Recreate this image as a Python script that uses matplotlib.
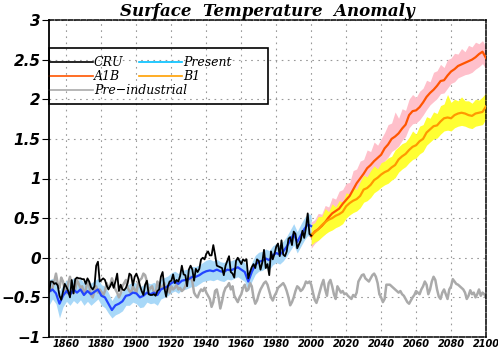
import numpy as np
import matplotlib
matplotlib.use("Agg")
import matplotlib.pyplot as plt
import matplotlib.transforms as mtransforms
from matplotlib.lines import Line2D
from matplotlib.patches import Rectangle

# ------------------------------------------------------------------
# data
# ------------------------------------------------------------------
cru_years = np.arange(1850, 2001)
cru = [
    -0.44, -0.30, -0.30, -0.33, -0.32, -0.35, -0.48, -0.53, -0.43, -0.33,
    -0.37, -0.42, -0.50, -0.28, -0.45, -0.27, -0.25, -0.26, -0.26, -0.27,
    -0.27, -0.33, -0.26, -0.30, -0.37, -0.40, -0.36, -0.10, -0.05, -0.30,
    -0.28, -0.26, -0.28, -0.35, -0.40, -0.36, -0.31, -0.38, -0.30, -0.20,
    -0.42, -0.34, -0.40, -0.41, -0.38, -0.32, -0.20, -0.22, -0.35, -0.24,
    -0.20, -0.26, -0.35, -0.42, -0.47, -0.34, -0.29, -0.46, -0.47, -0.47,
    -0.46, -0.48, -0.42, -0.40, -0.24, -0.18, -0.38, -0.49, -0.36, -0.30,
    -0.29, -0.21, -0.32, -0.28, -0.30, -0.23, -0.10, -0.21, -0.22, -0.36,
    -0.15, -0.10, -0.15, -0.29, -0.14, -0.18, -0.14, -0.02, 0.00, -0.02,
    0.05, 0.08, 0.03, 0.03, 0.16, 0.04, -0.10, -0.11, -0.12, -0.13,
    -0.22, -0.10, -0.04, 0.02, -0.18, -0.20, -0.25, -0.04, 0.00, -0.04,
    -0.08, -0.02, -0.04, -0.02, -0.26, -0.18, -0.12, -0.08, -0.13, -0.02,
    -0.04, -0.15, -0.06, 0.10, -0.13, -0.08, -0.22, 0.08, -0.02, 0.05,
    0.14, 0.18, 0.02, 0.22, 0.04, 0.02, 0.08, 0.24, 0.26, 0.16,
    0.33, 0.30, 0.12, 0.17, 0.22, 0.34, 0.25, 0.38, 0.56, 0.30,
    0.28,
]

present_years = np.arange(1850, 2001, 2)
present = [
    -0.43, -0.40, -0.45, -0.58, -0.48, -0.42, -0.47, -0.40, -0.44, -0.40,
    -0.47, -0.42, -0.46, -0.43, -0.40, -0.48, -0.50, -0.58, -0.66, -0.60,
    -0.58, -0.55, -0.48, -0.47, -0.44, -0.45, -0.50, -0.48, -0.44, -0.46,
    -0.44, -0.47, -0.40, -0.38, -0.36, -0.32, -0.30, -0.33, -0.29, -0.28,
    -0.27, -0.24, -0.24, -0.22, -0.19, -0.17, -0.16, -0.17, -0.15, -0.17,
    -0.18, -0.15, -0.16, -0.14, -0.12, -0.15, -0.18, -0.30, -0.18, -0.09,
    -0.05, -0.04, -0.01, -0.03, 0.03, 0.06, 0.04, 0.08, 0.14, 0.22,
    0.30, 0.20, 0.28, 0.36, 0.42, 0.40,
]
present_lo = [
    -0.60, -0.52, -0.58, -0.76, -0.62, -0.55, -0.60, -0.54, -0.58, -0.53,
    -0.60, -0.55, -0.60, -0.56, -0.52, -0.60, -0.63, -0.70, -0.76, -0.72,
    -0.70, -0.67, -0.60, -0.60, -0.56, -0.58, -0.63, -0.62, -0.56, -0.58,
    -0.57, -0.60, -0.52, -0.50, -0.48, -0.44, -0.42, -0.45, -0.40, -0.40,
    -0.38, -0.36, -0.36, -0.33, -0.30, -0.29, -0.28, -0.29, -0.27, -0.29,
    -0.30, -0.27, -0.28, -0.26, -0.24, -0.27, -0.30, -0.42, -0.30, -0.21,
    -0.17, -0.16, -0.13, -0.15, -0.09, -0.06, -0.08, -0.04, 0.02, 0.09,
    0.16, 0.06, 0.14, 0.22, 0.28, 0.26,
]
present_hi = [
    -0.28, -0.26, -0.30, -0.42, -0.34, -0.28, -0.32, -0.25, -0.30, -0.26,
    -0.32, -0.28, -0.32, -0.29, -0.26, -0.34, -0.36, -0.44, -0.54, -0.47,
    -0.45, -0.42, -0.35, -0.33, -0.31, -0.32, -0.37, -0.34, -0.31, -0.33,
    -0.31, -0.34, -0.27, -0.25, -0.23, -0.19, -0.17, -0.20, -0.16, -0.15,
    -0.14, -0.11, -0.11, -0.09, -0.06, -0.03, -0.02, -0.04, -0.02, -0.05,
    -0.06, -0.03, -0.04, -0.02, 0.00, -0.03, -0.06, -0.18, -0.06, 0.03,
    0.07, 0.08, 0.11, 0.09, 0.15, 0.18, 0.16, 0.21, 0.27, 0.35,
    0.43, 0.33, 0.42, 0.50, 0.56, 0.54,
]

pre_years = np.arange(1850, 2101)
pre_industrial = [
    -0.36, -0.42, -0.38, -0.30, -0.20, -0.33, -0.38, -0.25, -0.30, -0.40,
    -0.45, -0.32, -0.24, -0.35, -0.45, -0.40, -0.28, -0.33, -0.38, -0.36,
    -0.46, -0.40, -0.30, -0.35, -0.47, -0.50, -0.42, -0.36, -0.44, -0.40,
    -0.43, -0.48, -0.42, -0.32, -0.38, -0.35, -0.26, -0.33, -0.40, -0.44,
    -0.50, -0.45, -0.36, -0.32, -0.28, -0.38, -0.42, -0.44, -0.36, -0.40,
    -0.44, -0.32, -0.28, -0.26, -0.20, -0.22, -0.30, -0.42, -0.38, -0.36,
    -0.44, -0.46, -0.30, -0.34, -0.38, -0.36, -0.32, -0.40, -0.36, -0.44,
    -0.36, -0.40, -0.38, -0.34, -0.40, -0.38, -0.42, -0.40, -0.36, -0.30,
    -0.26, -0.24, -0.30, -0.44, -0.48, -0.50, -0.44, -0.40, -0.42, -0.38,
    -0.44, -0.48, -0.52, -0.62, -0.56, -0.42, -0.40, -0.50, -0.64, -0.55,
    -0.44, -0.38, -0.36, -0.32, -0.40, -0.36, -0.48, -0.52, -0.56, -0.50,
    -0.46, -0.38, -0.34, -0.42, -0.40, -0.32, -0.36, -0.50, -0.58, -0.54,
    -0.46, -0.40, -0.36, -0.32, -0.30, -0.34, -0.42, -0.50, -0.54, -0.48,
    -0.44, -0.38, -0.36, -0.34, -0.32, -0.36, -0.42, -0.50, -0.60, -0.56,
    -0.50, -0.42, -0.36, -0.38, -0.42, -0.40, -0.36, -0.30, -0.32, -0.30,
    -0.34, -0.44, -0.53, -0.57, -0.50, -0.42, -0.34, -0.28, -0.40, -0.48,
    -0.32, -0.28, -0.36, -0.46, -0.52, -0.36, -0.40, -0.44, -0.42, -0.46,
    -0.45, -0.48, -0.50, -0.52, -0.47, -0.49, -0.44, -0.30, -0.26, -0.22,
    -0.21, -0.26, -0.28, -0.30, -0.26, -0.22, -0.20, -0.24, -0.32, -0.46,
    -0.50, -0.56, -0.52, -0.34, -0.34, -0.34, -0.36, -0.38, -0.40, -0.42,
    -0.44, -0.42, -0.46, -0.48, -0.52, -0.56, -0.58, -0.54, -0.50, -0.47,
    -0.42, -0.44, -0.46, -0.40, -0.36, -0.30, -0.34, -0.46, -0.40, -0.30,
    -0.24, -0.28, -0.40, -0.49, -0.52, -0.44, -0.40, -0.46, -0.52, -0.40,
    -0.36, -0.27, -0.30, -0.33, -0.34, -0.36, -0.38, -0.40, -0.44, -0.52,
    -0.48, -0.41, -0.46, -0.44, -0.50, -0.46, -0.40, -0.48, -0.44, -0.46,
    -0.50,
]

scen_years = np.arange(2000, 2101, 2)
a1b = [
    0.27, 0.33, 0.36, 0.40, 0.45, 0.51, 0.56, 0.59, 0.62, 0.68,
    0.73, 0.78, 0.86, 0.94, 1.00, 1.06, 1.13, 1.17, 1.22, 1.26,
    1.30, 1.38, 1.43, 1.50, 1.53, 1.57, 1.63, 1.68, 1.80, 1.85,
    1.86, 1.90, 1.96, 2.03, 2.08, 2.12, 2.17, 2.23, 2.24, 2.30,
    2.35, 2.38, 2.42, 2.44, 2.46, 2.48, 2.50, 2.53, 2.57, 2.60,
    2.52,
]
a1b_lo = [
    0.12, 0.18, 0.22, 0.27, 0.30, 0.36, 0.42, 0.44, 0.47, 0.53,
    0.58, 0.62, 0.71, 0.78, 0.84, 0.90, 0.96, 1.00, 1.06, 1.08,
    1.12, 1.22, 1.27, 1.34, 1.37, 1.41, 1.48, 1.53, 1.64, 1.69,
    1.70, 1.74, 1.80, 1.87, 1.93, 1.97, 2.01, 2.07, 2.08, 2.14,
    2.20, 2.22, 2.27, 2.29, 2.31, 2.32, 2.34, 2.38, 2.41, 2.45,
    2.38,
]
a1b_hi = [
    0.45, 0.48, 0.56, 0.55, 0.66, 0.64, 0.76, 0.74, 0.84, 0.86,
    0.94, 0.95, 1.10, 1.12, 1.22, 1.24, 1.36, 1.34, 1.46, 1.42,
    1.50, 1.58, 1.68, 1.70, 1.84, 1.76, 1.88, 1.86, 2.00, 2.06,
    2.02, 2.10, 2.14, 2.24, 2.22, 2.34, 2.36, 2.44, 2.40, 2.50,
    2.52, 2.58, 2.57, 2.64, 2.60, 2.68, 2.66, 2.72, 2.70, 2.74,
    2.66,
]
b1 = [
    0.29, 0.32, 0.36, 0.41, 0.45, 0.48, 0.50, 0.53, 0.55, 0.58,
    0.65, 0.69, 0.72, 0.74, 0.78, 0.86, 0.88, 0.92, 0.98, 1.01,
    1.05, 1.08, 1.10, 1.14, 1.17, 1.24, 1.28, 1.31, 1.36, 1.40,
    1.42, 1.47, 1.50, 1.58, 1.62, 1.66, 1.67, 1.72, 1.76, 1.77,
    1.76, 1.80, 1.82, 1.83, 1.82, 1.80, 1.79, 1.82, 1.83, 1.84,
    1.91,
]
b1_lo = [
    0.16, 0.20, 0.22, 0.26, 0.30, 0.33, 0.35, 0.38, 0.40, 0.43,
    0.50, 0.54, 0.57, 0.59, 0.63, 0.70, 0.72, 0.76, 0.82, 0.85,
    0.89, 0.92, 0.94, 0.98, 1.01, 1.08, 1.12, 1.15, 1.20, 1.24,
    1.26, 1.31, 1.34, 1.42, 1.46, 1.50, 1.51, 1.56, 1.60, 1.61,
    1.60, 1.64, 1.66, 1.67, 1.66, 1.64, 1.63, 1.66, 1.67, 1.68,
    1.75,
]
b1_hi = [
    0.42, 0.44, 0.52, 0.52, 0.62, 0.58, 0.68, 0.64, 0.72, 0.70,
    0.82, 0.80, 0.90, 0.86, 0.96, 1.04, 1.02, 1.10, 1.16, 1.12,
    1.20, 1.22, 1.26, 1.28, 1.36, 1.40, 1.44, 1.46, 1.52, 1.60,
    1.56, 1.66, 1.68, 1.78, 1.76, 1.84, 1.82, 1.92, 1.94, 2.06,
    1.96, 2.00, 1.98, 2.03, 1.98, 1.98, 1.95, 2.00, 1.99, 2.03,
    2.08,
]

x_ticks = list(range(1860, 2101, 20))
y_ticks = [-1, -0.5, 0, 0.5, 1, 1.5, 2, 2.5, 3]
y_labels = ["\u22121", "\u22120.5", "0", "0.5", "1", "1.5", "2", "2.5", "3"]

# ------------------------------------------------------------------
# figure
# ------------------------------------------------------------------
fig = plt.figure(figsize=(4.98, 3.51), dpi=100)
ax = fig.add_axes([49 / 498, 14 / 351, 437 / 498, 317 / 351])

ax.fill_between(present_years, present_lo, present_hi,
                color="#a8d8f8", lw=0, zorder=1)
ax.fill_between(scen_years, a1b_lo, a1b_hi,
                color="#ffc0cb", lw=0, zorder=1)
ax.fill_between(scen_years, b1_lo, b1_hi,
                color="#ffff33", lw=0, zorder=1.1)

ax.plot(pre_years, pre_industrial, color="#aaaaaa", lw=1.8, zorder=2)
ax.plot(present_years, present, color="#2244ff", lw=1.6, zorder=3)
ax.plot(cru_years, cru, color="black", lw=1.3, zorder=4)
ax.plot(scen_years, a1b, color="#ff5500", lw=1.6, zorder=3)
ax.plot(scen_years, b1, color="#ff9900", lw=1.6, zorder=3.1)

ax.set_xlim(1850, 2100)
ax.set_ylim(-1, 3)
ax.set_xticks(x_ticks)
ax.set_xticklabels([str(t) for t in x_ticks], fontsize=7,
                   fontweight="bold", fontstyle="italic")
# keep the last year label inside the picture
last = ax.get_xticklabels()[-1]
last.set_transform(last.get_transform() + mtransforms.ScaledTranslation(
    -6 / 72, 0, fig.dpi_scale_trans))
ax.set_yticks(y_ticks)
ax.set_yticklabels(y_labels, fontsize=11, fontweight="bold",
                   fontstyle="italic")
ax.tick_params(axis="y", length=5, width=0.8, pad=1)
ax.tick_params(axis="x", length=0, pad=1.5)

ax.grid(True, color="#999999", lw=0.8, linestyle=(0, (1.5, 4)))
ax.set_axisbelow(True)

ax.spines["left"].set_linewidth(1.3)
for side in ["top", "right", "bottom"]:
    ax.spines[side].set_linestyle((0, (3, 1.2)))
    ax.spines[side].set_linewidth(1.1)

ax.set_title("Surface  Temperature  Anomaly", fontsize=12,
             family="DejaVu Serif", fontweight="bold", fontstyle="italic",
             pad=3)

# legend: two columns, pre-industrial on its own row
leg_font = {"family": "DejaVu Serif", "style": "italic", "size": 9}
h_cru = Line2D([], [], color="black", lw=1.2)
h_present = Line2D([], [], color="#00c0ff", lw=1.2)
h_a1b = Line2D([], [], color="#ff5500", lw=1.2)
h_b1 = Line2D([], [], color="#ffa000", lw=1.2)
h_pre = Line2D([], [], color="#aaaaaa", lw=1.2)

leg1 = ax.legend([h_cru, h_a1b, h_present, h_b1],
                 ["CRU", "A1B", "Present", "B1"], ncol=2,
                 loc="upper left", bbox_to_anchor=(0, 0.886),
                 frameon=False, prop=leg_font, borderpad=0,
                 borderaxespad=0, labelspacing=0.08, handlelength=3.5,
                 handletextpad=0.1, columnspacing=1.2)
ax.add_artist(leg1)
ax.legend([h_pre], ["Pre\u2212industrial"], loc="upper left",
          bbox_to_anchor=(0, 0.798), frameon=False, prop=leg_font,
          borderpad=0, borderaxespad=0, handlelength=3.5,
          handletextpad=0.1)
ax.add_patch(Rectangle((0, 0.735), 0.501, 0.177, transform=ax.transAxes,
                       fill=False, ec="black", lw=1.2, zorder=6,
                       clip_on=False))

fig.savefig("out.png", dpi=100)
